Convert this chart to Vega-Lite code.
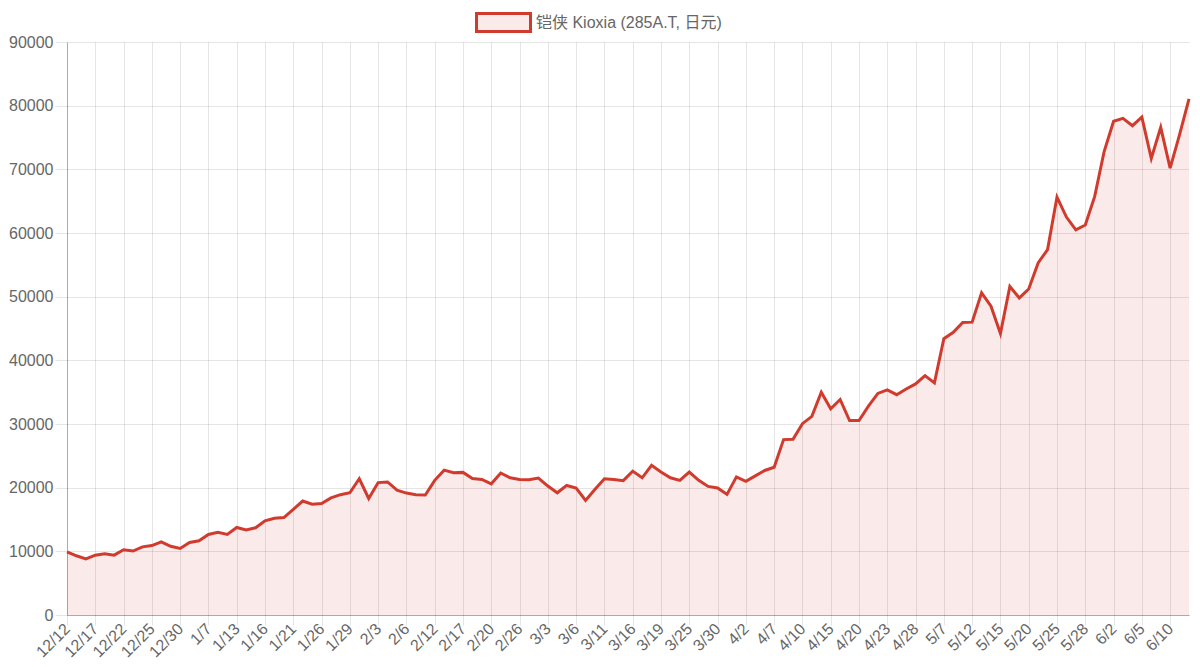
{
  "$schema": "https://vega.github.io/schema/vega-lite/v6.json",
  "width": 1122,
  "height": 573,
  "autosize": "none",
  "padding": {"left": 67, "top": 42, "right": 11, "bottom": 52},
  "background": "#ffffff",
  "data": {
    "values": [
      {"d": "12/12", "v": 9900}, {"d": "12/13", "v": 9300}, {"d": "12/16", "v": 8800},
      {"d": "12/17", "v": 9400}, {"d": "12/18", "v": 9600}, {"d": "12/19", "v": 9400},
      {"d": "12/22", "v": 10250}, {"d": "12/23", "v": 10050}, {"d": "12/24", "v": 10700},
      {"d": "12/25", "v": 10900}, {"d": "12/26", "v": 11500}, {"d": "12/27", "v": 10800},
      {"d": "12/30", "v": 10450}, {"d": "1/2", "v": 11400}, {"d": "1/6", "v": 11650},
      {"d": "1/7", "v": 12650}, {"d": "1/8", "v": 13000}, {"d": "1/10", "v": 12650},
      {"d": "1/13", "v": 13750}, {"d": "1/14", "v": 13350}, {"d": "1/15", "v": 13700},
      {"d": "1/16", "v": 14800}, {"d": "1/17", "v": 15200}, {"d": "1/20", "v": 15300},
      {"d": "1/21", "v": 16600}, {"d": "1/22", "v": 17900}, {"d": "1/23", "v": 17400},
      {"d": "1/26", "v": 17500}, {"d": "1/27", "v": 18400}, {"d": "1/28", "v": 18900},
      {"d": "1/29", "v": 19200}, {"d": "1/30", "v": 21400}, {"d": "1/31", "v": 18300},
      {"d": "2/3", "v": 20800}, {"d": "2/4", "v": 20900}, {"d": "2/5", "v": 19600},
      {"d": "2/6", "v": 19150}, {"d": "2/7", "v": 18900}, {"d": "2/10", "v": 18850},
      {"d": "2/12", "v": 21150}, {"d": "2/13", "v": 22750}, {"d": "2/14", "v": 22350},
      {"d": "2/17", "v": 22400}, {"d": "2/18", "v": 21450}, {"d": "2/19", "v": 21300},
      {"d": "2/20", "v": 20600}, {"d": "2/21", "v": 22300}, {"d": "2/25", "v": 21550},
      {"d": "2/26", "v": 21300}, {"d": "2/27", "v": 21250}, {"d": "2/28", "v": 21500},
      {"d": "3/3", "v": 20250}, {"d": "3/4", "v": 19200}, {"d": "3/5", "v": 20350},
      {"d": "3/6", "v": 19950}, {"d": "3/7", "v": 18000}, {"d": "3/10", "v": 19750},
      {"d": "3/11", "v": 21400}, {"d": "3/12", "v": 21300}, {"d": "3/13", "v": 21100},
      {"d": "3/16", "v": 22600}, {"d": "3/17", "v": 21550}, {"d": "3/18", "v": 23500},
      {"d": "3/19", "v": 22450}, {"d": "3/21", "v": 21550}, {"d": "3/24", "v": 21150},
      {"d": "3/25", "v": 22450}, {"d": "3/26", "v": 21150}, {"d": "3/27", "v": 20200},
      {"d": "3/30", "v": 19950}, {"d": "3/31", "v": 18950}, {"d": "4/1", "v": 21700},
      {"d": "4/2", "v": 21000}, {"d": "4/3", "v": 21850}, {"d": "4/4", "v": 22700},
      {"d": "4/7", "v": 23200}, {"d": "4/8", "v": 27550}, {"d": "4/9", "v": 27600},
      {"d": "4/10", "v": 30050}, {"d": "4/11", "v": 31200}, {"d": "4/14", "v": 35000},
      {"d": "4/15", "v": 32400}, {"d": "4/16", "v": 33850}, {"d": "4/17", "v": 30550},
      {"d": "4/20", "v": 30550}, {"d": "4/21", "v": 32800}, {"d": "4/22", "v": 34800},
      {"d": "4/23", "v": 35350}, {"d": "4/24", "v": 34600}, {"d": "4/25", "v": 35500},
      {"d": "4/28", "v": 36300}, {"d": "4/30", "v": 37600}, {"d": "5/1", "v": 36450},
      {"d": "5/7", "v": 43400}, {"d": "5/8", "v": 44400}, {"d": "5/9", "v": 45950},
      {"d": "5/12", "v": 46000}, {"d": "5/13", "v": 50600}, {"d": "5/14", "v": 48500},
      {"d": "5/15", "v": 44200}, {"d": "5/16", "v": 51600}, {"d": "5/19", "v": 49800},
      {"d": "5/20", "v": 51200}, {"d": "5/21", "v": 55300}, {"d": "5/22", "v": 57400},
      {"d": "5/25", "v": 65650}, {"d": "5/26", "v": 62500}, {"d": "5/27", "v": 60500},
      {"d": "5/28", "v": 61250}, {"d": "5/29", "v": 65750}, {"d": "5/30", "v": 72800},
      {"d": "6/2", "v": 77550}, {"d": "6/3", "v": 78000}, {"d": "6/4", "v": 76850},
      {"d": "6/5", "v": 78200}, {"d": "6/8", "v": 71700}, {"d": "6/9", "v": 76600},
      {"d": "6/10", "v": 70200}, {"d": "6/11", "v": 75450}, {"d": "6/12", "v": 81050}
    ]
  },
  "encoding": {
    "x": {
      "field": "d",
      "type": "ordinal",
      "sort": null,
      "scale": {"type": "point", "padding": 0},
      "axis": {
        "title": null,
        "grid": true,
        "values": ["12/12", "12/17", "12/22", "12/25", "12/30", "1/7", "1/13", "1/16", "1/21", "1/26",
                   "1/29", "2/3", "2/6", "2/12", "2/17", "2/20", "2/26", "3/3", "3/6", "3/11",
                   "3/16", "3/19", "3/25", "3/30", "4/2", "4/7", "4/10", "4/15", "4/20", "4/23",
                   "4/28", "5/7", "5/12", "5/15", "5/20", "5/25", "5/28", "6/2", "6/5", "6/10"],
        "labelAngle": -45,
        "labelAlign": "right",
        "labelBaseline": "middle",
        "tickSize": 10,
        "labelPadding": 1
      }
    },
    "y": {
      "field": "v",
      "type": "quantitative",
      "scale": {"domain": [0, 90000], "nice": false},
      "axis": {
        "title": null,
        "grid": true,
        "values": [0, 10000, 20000, 30000, 40000, 50000, 60000, 70000, 80000, 90000],
        "format": "d",
        "tickSize": 12,
        "labelPadding": 2
      }
    }
  },
  "layer": [
    {
      "mark": {"type": "area", "line": false},
      "encoding": {
        "fill": {
          "datum": "铠侠 Kioxia (285A.T, 日元)",
          "type": "nominal",
          "scale": {"range": ["rgba(209,59,46,0.1)"]},
          "legend": {
            "title": null,
            "orient": "none",
            "legendX": 417,
            "legendY": -39,
            "symbolType": "M-1.5,-0.5H1.5V0.5H-1.5Z",
            "symbolSize": 1296,
            "symbolStrokeWidth": 3,
            "labelOffset": 13,
            "labelLimit": 0
          }
        }
      }
    },
    {
      "mark": {"type": "line", "strokeWidth": 3, "strokeJoin": "miter"},
      "encoding": {
        "stroke": {
          "datum": "铠侠 Kioxia (285A.T, 日元)",
          "type": "nominal",
          "scale": {"range": ["#d13b2e"]}
        }
      }
    }
  ],
  "config": {
    "font": "Liberation Sans, Noto Sans CJK SC",
    "view": {"stroke": null},
    "axis": {
      "labelFontSize": 16,
      "labelColor": "#666666",
      "labelFont": "Liberation Sans",
      "gridColor": "#000000",
      "gridOpacity": 0.1,
      "tickColor": "#000000",
      "tickOpacity": 0.1,
      "domainColor": "#000000",
      "domainOpacity": 0.25
    },
    "legend": {
      "labelFontSize": 16,
      "labelColor": "#666666",
      "labelFont": "Liberation Sans, Noto Sans CJK SC"
    }
  }
}
